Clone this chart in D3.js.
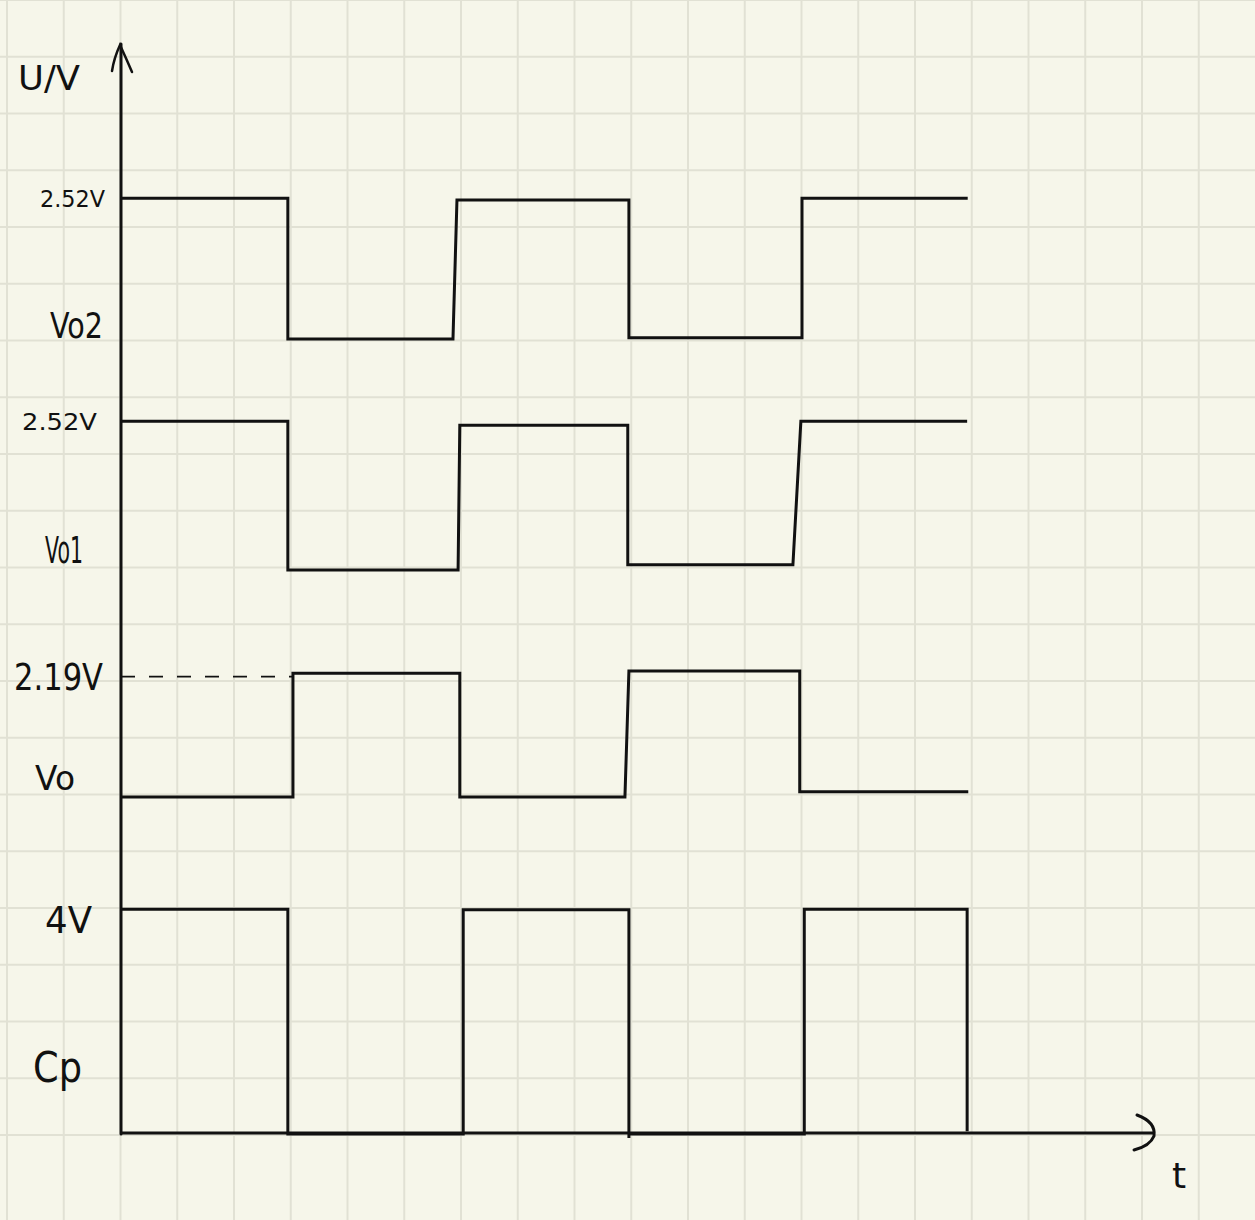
<!DOCTYPE html>
<html>
<head>
<meta charset="utf-8">
<script src="https://cdn.jsdelivr.net/npm/d3@7"></script>
<style>
  html, body { margin: 0; padding: 0; background: #f6f6ea; }
  svg { display: block; }
</style>
</head>
<body>
<script>
// ---- data (time in grid units from origin, level in grid units above the t axis) ----
const vo2T = [0, 2.94, 2.94, 5.85, 5.92, 8.95, 8.95, 12.0, 12.0, 14.92];
const vo2U = [16.49, 16.49, 14.01, 14.01, 16.46, 16.46, 14.03, 14.03, 16.49, 16.49];

const vo1T = [0, 2.94, 2.94, 5.94, 5.97, 8.93, 8.93, 11.84, 11.98, 14.91];
const vo1U = [12.56, 12.56, 9.94, 9.94, 12.49, 12.49, 10.03, 10.03, 12.56, 12.56];

const voT = [0, 3.03, 3.03, 5.97, 5.97, 8.88, 8.95, 11.96, 11.96, 14.93];
const voU = [5.94, 5.94, 8.12, 8.12, 5.94, 5.94, 8.16, 8.16, 6.03, 6.03];

const cpT = [0, 2.94, 2.94, 6.03, 6.03, 8.95, 8.95, 8.95, 12.04, 12.04, 14.91, 14.91];
const cpU = [3.96, 3.96, 0, 0, 3.95, 3.95, -0.07, 0, 0, 3.96, 3.96, 0.05];

const refT = [0, 3.03];        // dashed reference to 2.19 V
const refU = [8.06, 8.06];

const labels = ["U/V", "2.52V", "Vo2", "2.52V", "Vo1", "2.19V", "Vo", "4V", "Cp", "t"];

// ---- layout ----
const W = 1255, H = 1220;
const cell = 56.75;
const x = d3.scaleLinear().domain([0, 1]).range([121, 121 + cell]);
const y = d3.scaleLinear().domain([0, 1]).range([1134, 1134 - cell]);

const svg = d3.select("body").append("svg").attr("width", W).attr("height", H);
svg.append("rect").attr("width", W).attr("height", H).attr("fill", "#f6f6ea");

// grid
const gx = d3.range(-2, 20);
const gy = d3.range(0, 22);
svg.append("g").selectAll("line").data(gx).join("line")
  .attr("x1", d => x(d) - 0.5).attr("x2", d => x(d) - 0.5)
  .attr("y1", 0).attr("y2", H)
  .attr("stroke", "#e1e1d4").attr("stroke-width", 2);
svg.append("g").selectAll("line").data(gy).join("line")
  .attr("y1", d => y(d) + 1).attr("y2", d => y(d) + 1)
  .attr("x1", 0).attr("x2", W)
  .attr("stroke", "#e1e1d4").attr("stroke-width", 2);

const ink = "#111";
const line = d3.line().x(d => x(d[0])).y(d => y(d[1]));

// axes
svg.append("line").attr("x1", x(0)).attr("x2", x(0)).attr("y1", y(0)).attr("y2", 44)
  .attr("stroke", ink).attr("stroke-width", 3).attr("stroke-linecap", "round");
svg.append("path").attr("d", "M112,71 Q114,58 120,45 Q126,58 132,72")
  .attr("fill", "none").attr("stroke", ink).attr("stroke-width", 2.5).attr("stroke-linecap", "round");
svg.append("line").attr("x1", x(0)).attr("x2", 1154).attr("y1", y(0) - 1).attr("y2", y(0) - 1)
  .attr("stroke", ink).attr("stroke-width", 3);
svg.append("path").attr("d", "M1137,1115 Q1156,1122 1154,1136 Q1150,1146 1134,1150")
  .attr("fill", "none").attr("stroke", ink).attr("stroke-width", 3).attr("stroke-linecap", "round");

// waveforms
const series = [[vo2T, vo2U], [vo1T, vo1U], [voT, voU], [cpT, cpU]];
series.forEach(([T, U]) => {
  svg.append("path").datum(T.map((t, i) => [t, U[i]]))
    .attr("d", line).attr("fill", "none").attr("stroke", ink)
    .attr("stroke-width", 3).attr("stroke-linejoin", "miter").attr("stroke-linecap", "butt");
});

// dashed reference
svg.append("path").datum(refT.map((t, i) => [t, refU[i]]))
  .attr("d", line).attr("fill", "none").attr("stroke", ink)
  .attr("stroke-width", 1.8).attr("stroke-dasharray", "14,14");

// labels (left, baseline, size, width)
const pos = [
  [18, 90, 34, 62],
  [40, 207, 23, 65],
  [50, 338, 36, 53],
  [22, 430, 23, 75],
  [45, 563, 38, 38],
  [14, 690, 38, 89],
  [35, 790, 34, 40],
  [45, 933, 38, 47],
  [33, 1082, 42, 49],
  [1172, 1188, 36, null]
];
svg.append("g").selectAll("text").data(labels).join("text")
  .attr("x", (d, i) => pos[i][0]).attr("y", (d, i) => pos[i][1])
  .attr("font-family", "'DejaVu Sans', sans-serif")
  .attr("font-size", (d, i) => pos[i][2])
  .attr("fill", ink)
  .attr("textLength", (d, i) => pos[i][3])
  .attr("lengthAdjust", (d, i) => pos[i][3] ? "spacingAndGlyphs" : null)
  .text(d => d);
</script>
</body>
</html>
